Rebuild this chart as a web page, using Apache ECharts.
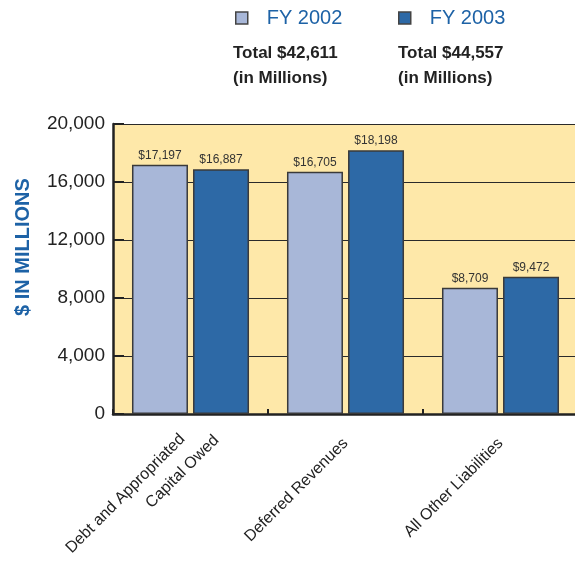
<!DOCTYPE html>
<html>
<head>
<meta charset="utf-8">
<script src="https://cdn.jsdelivr.net/npm/echarts@6/dist/echarts.min.js"></script>
<style>
  html, body { margin: 0; padding: 0; background: #ffffff; }
  #chart { width: 575px; height: 565px; }
</style>
</head>
<body>
<div id="chart"></div>
<script>
// Liabilities by category, $ in millions
const categories = ['Debt and Appropriated\nCapital Owed', 'Deferred Revenues', 'All Other Liabilities'];
const seriesNames = ['FY 2002', 'FY 2003'];
const fy2002 = [17197, 16705, 8709];
const fy2003 = [16887, 18198, 9472];
const totals = ['Total $42,611', 'Total $44,557'];
const totalsNote = '(in Millions)';
const yTicks = [0, 4000, 8000, 12000, 16000, 20000];

const FONT = "'Liberation Sans', Arial, sans-serif";
const LIGHT = '#A8B7D8';
const DARK = '#2D69A6';
const BLUE_TEXT = '#1D62A6';
const XLABEL_SIZE = 16;

const fmt = v => '$' + v.toLocaleString('en-US');

// Measure category label lines so the rotated labels can be nudged
// along their baseline (second line of a wrapped label runs further out).
const measureCtx = document.createElement('canvas').getContext('2d');
measureCtx.font = XLABEL_SIZE + 'px ' + FONT;
const textW = s => measureCtx.measureText(s).width;

const rich = {};
categories.forEach((cat, i) => {
  const lines = cat.split('\n');
  if (lines.length === 2) {
    const w1 = textW(lines[0]);
    rich['c' + i + 'a'] = { align: 'right', lineHeight: 32, padding: [0, w1 + 5.4, 0, 0] };
    rich['c' + i + 'b'] = { align: 'right', lineHeight: 17.6, padding: [0, Math.max(0, w1 - 17.9), 0, 0] };
  } else {
    const w = textW(lines[0]);
    rich['c' + i] = { padding: [0, w, 0, 0] };
  }
});
Object.values(rich).forEach(r => { r.fontSize = XLABEL_SIZE; r.fontFamily = FONT; r.color = '#222'; });

const chart = echarts.init(document.getElementById('chart'), null, { renderer: 'canvas' });

const barStyle = color => ({
  color: color,
  borderColor: '#3a3a3a',
  borderWidth: 1.5
});

const legendCommon = {
  icon: 'rect', itemWidth: 12, itemHeight: 12,
  itemStyle: { borderColor: '#444', borderWidth: 1.5 },
  textStyle: { color: BLUE_TEXT, fontSize: 20, fontFamily: FONT, padding: [0, 0, 0, 14] }
};

chart.setOption({
  animation: false,
  textStyle: { fontFamily: FONT },
  legend: [
    Object.assign({ data: [seriesNames[0]], left: 230, top: 3 }, legendCommon),
    Object.assign({ data: [seriesNames[1]], left: 393, top: 3 }, legendCommon)
  ],
  graphic: [
    { type: 'text', left: 233, top: 41, style: { text: totals[0] + '\n' + totalsNote, fill: '#222', font: 'bold 17px ' + FONT, lineHeight: 25 } },
    { type: 'text', left: 398, top: 41, style: { text: totals[1] + '\n' + totalsNote, fill: '#222', font: 'bold 17px ' + FONT, lineHeight: 25 } }
  ],
  grid: {
    left: 113, right: -3, top: 124, bottom: 151,
    outerBoundsMode: 'none', containLabel: false,
    show: true, backgroundColor: '#FEE8A9', borderWidth: 0
  },
  xAxis: {
    type: 'category',
    data: categories,
    axisLine: { lineStyle: { color: '#222', width: 2.5 } },
    axisTick: { show: true, inside: true, length: 5, lineStyle: { color: '#222', width: 2 } },
    axisLabel: {
      rotate: 45, margin: 27, interval: 0, align: 'center',
      color: '#222', fontSize: XLABEL_SIZE, fontFamily: FONT,
      rich: rich,
      formatter: (value, idx) => {
        const lines = value.split('\n');
        if (lines.length === 2) return '{c' + idx + 'a|' + lines[0] + '}\n{c' + idx + 'b|' + lines[1] + '}';
        return '{c' + idx + '|' + value + '}';
      }
    }
  },
  yAxis: {
    type: 'value',
    min: 0, max: 20000, interval: 4000,
    name: '$ IN MILLIONS',
    nameLocation: 'middle', nameRotate: 90, nameGap: 80,
    nameTextStyle: { color: BLUE_TEXT, fontSize: 20, fontWeight: 'bold', fontFamily: FONT, padding: [0, 0, 0, 44] },
    axisLine: { show: true, lineStyle: { color: '#222', width: 2.5 } },
    axisTick: { show: true, inside: true, length: 11, lineStyle: { color: '#222', width: 2 } },
    axisLabel: {
      color: '#222', fontSize: 19, fontFamily: FONT, margin: 8, padding: [5, 0, 0, 0],
      formatter: v => yTicks.includes(v) ? v.toLocaleString('en-US') : ''
    },
    splitLine: { show: true, lineStyle: { color: '#2a2a2a', width: 1.2 } }
  },
  series: [
    {
      name: seriesNames[0], type: 'bar', data: fy2002,
      barWidth: 56, barGap: '9%',
      itemStyle: barStyle(LIGHT),
      label: { show: true, position: 'top', distance: 3, color: '#333', fontSize: 12, fontFamily: FONT, formatter: p => fmt(p.value) }
    },
    {
      name: seriesNames[1], type: 'bar', data: fy2003,
      barWidth: 56, barGap: '9%',
      itemStyle: barStyle(DARK),
      label: { show: true, position: 'top', distance: 3, color: '#333', fontSize: 12, fontFamily: FONT, formatter: p => fmt(p.value) }
    }
  ]
});
</script>
</body>
</html>
